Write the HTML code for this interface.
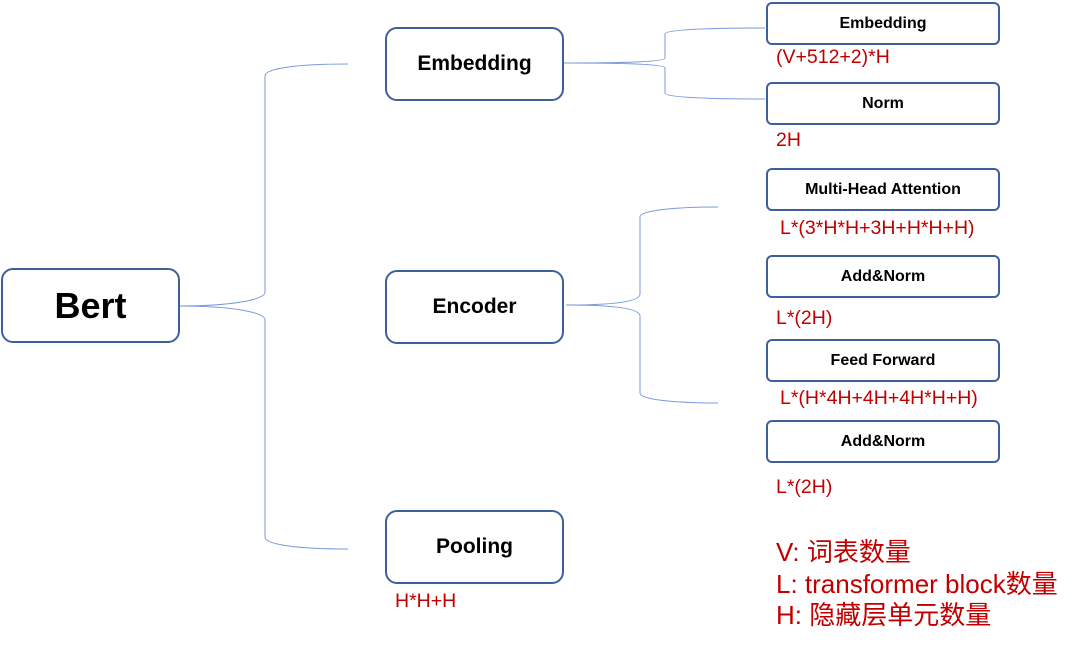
<!DOCTYPE html><html><head><style>
body{margin:0;width:1080px;height:649px;background:#fff;position:relative;overflow:hidden;font-family:"Liberation Sans","Noto Sans CJK SC",sans-serif}
.b{position:absolute;box-sizing:border-box;border:2px solid #3f5f9a;border-radius:12px;display:flex;align-items:center;justify-content:center;font-weight:bold;color:#000;background:#fff}
.s{border-radius:6px;font-size:16px}
.m{font-size:21px}
.r{position:absolute;color:#c00000;font-size:19.5px;white-space:nowrap}
.l{position:absolute;color:#c00000;font-size:26px;white-space:nowrap;left:776px;line-height:30px}
</style></head><body>
<svg width="1080" height="649" style="position:absolute;left:0;top:0" fill="none" stroke="#7a9ad8" stroke-width="1">
<path d="M179 306 C230 306 265 300 265 292 L265 76 C265 68 300 64 348 64"/>
<path d="M179 306 C230 306 265 312 265 320 L265 537 C265 545 300 549 348 549"/>
<path d="M563 63 C620 63 665 62 665 58 L665 34 C665 30 700 28 765 28"/>
<path d="M563 63 C620 63 665 64 665 68 L665 93 C665 97 700 99 765 99"/>
<path d="M566 305 C610 305 640 302 640 294 L640 217 C640 211 670 207 718 207"/>
<path d="M566 305 C610 305 640 308 640 316 L640 393 C640 399 670 403 718 403"/>
</svg>
<div class="b" style="left:1px;top:268px;width:179px;height:75px;font-size:36px">Bert</div>
<div class="b m" style="left:385px;top:27px;width:179px;height:74px">Embedding</div>
<div class="b m" style="left:385px;top:270px;width:179px;height:74px">Encoder</div>
<div class="b m" style="left:385px;top:510px;width:179px;height:74px">Pooling</div>
<div class="b s" style="left:766px;top:2px;width:234px;height:43px">Embedding</div>
<div class="b s" style="left:766px;top:82px;width:234px;height:43px">Norm</div>
<div class="b s" style="left:766px;top:168px;width:234px;height:43px">Multi-Head Attention</div>
<div class="b s" style="left:766px;top:255px;width:234px;height:43px">Add&amp;Norm</div>
<div class="b s" style="left:766px;top:339px;width:234px;height:43px">Feed Forward</div>
<div class="b s" style="left:766px;top:420px;width:234px;height:43px">Add&amp;Norm</div>
<div class="r" style="left:776px;top:46px">(V+512+2)*H</div>
<div class="r" style="left:776px;top:129px">2H</div>
<div class="r" style="left:780px;top:217px">L*(3*H*H+3H+H*H+H)</div>
<div class="r" style="left:776px;top:307px">L*(2H)</div>
<div class="r" style="left:780px;top:387px">L*(H*4H+4H+4H*H+H)</div>
<div class="r" style="left:776px;top:476px">L*(2H)</div>
<div class="r" style="left:395px;top:590px">H*H+H</div>
<div class="l" style="top:537px">V: 词表数量</div>
<div class="l" style="top:569px">L: transformer block数量</div>
<div class="l" style="top:600px">H: 隐藏层单元数量</div>
</body></html>
